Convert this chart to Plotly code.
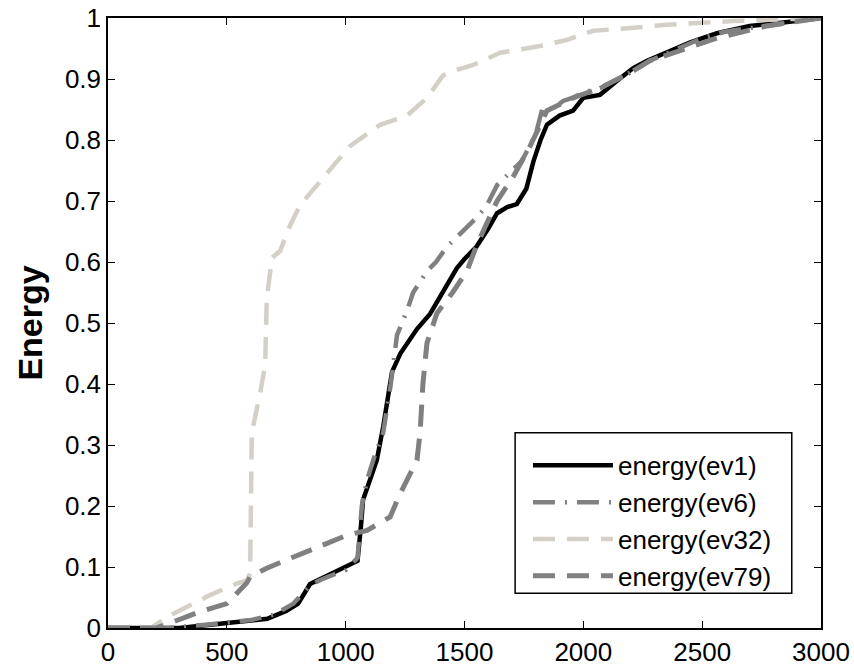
import plotly.graph_objects as go

ev1_x = [0, 300, 400, 500, 600, 670, 750, 800, 850, 900, 950, 1000, 1050, 1065, 1073, 1100, 1131, 1158, 1195, 1230, 1258, 1300, 1355, 1400, 1468, 1500, 1550, 1600, 1637, 1680, 1720, 1760, 1790, 1820, 1847, 1900, 1957, 2000, 2070, 2142, 2210, 2268, 2352, 2450, 2562, 2700, 2850, 3000]
ev1_y = [0, 0, 0.004, 0.008, 0.011, 0.015, 0.028, 0.04, 0.072, 0.082, 0.092, 0.1, 0.11, 0.17, 0.21, 0.24, 0.275, 0.33, 0.42, 0.45, 0.467, 0.49, 0.515, 0.545, 0.59, 0.605, 0.625, 0.655, 0.68, 0.69, 0.695, 0.72, 0.765, 0.8, 0.825, 0.84, 0.848, 0.869, 0.874, 0.897, 0.918, 0.93, 0.943, 0.96, 0.975, 0.987, 0.993, 1.0]

ev6_x = [0, 250, 400, 500, 600, 700, 780, 850, 900, 1000, 1050, 1068, 1090, 1120, 1158, 1190, 1216, 1258, 1284, 1342, 1380, 1426, 1480, 1536, 1590, 1637, 1700, 1742, 1800, 1830, 1870, 1915, 1960, 2000, 2070, 2150, 2210, 2280, 2400, 2500, 2600, 2773, 3000]
ev6_y = [0, 0, 0.005, 0.009, 0.013, 0.022, 0.04, 0.07, 0.08, 0.095, 0.115, 0.2, 0.243, 0.28, 0.32, 0.4, 0.48, 0.52, 0.55, 0.585, 0.6, 0.625, 0.645, 0.667, 0.69, 0.726, 0.75, 0.766, 0.81, 0.855, 0.85, 0.864, 0.87, 0.878, 0.885, 0.9, 0.913, 0.93, 0.95, 0.967, 0.978, 0.987, 1.0]

ev32_x = [0, 180, 248, 332, 429, 543, 585, 598, 600, 605, 640, 661, 668, 690, 724, 766, 808, 879, 947, 1018, 1145, 1258, 1342, 1410, 1468, 1536, 1650, 1818, 1930, 2041, 2210, 2352, 2630, 3000]
ev32_y = [0, 0, 0.018, 0.035, 0.054, 0.073, 0.078, 0.09, 0.2, 0.32, 0.385, 0.43, 0.54, 0.607, 0.618, 0.66, 0.693, 0.726, 0.759, 0.79, 0.825, 0.84, 0.869, 0.906, 0.915, 0.923, 0.943, 0.954, 0.964, 0.979, 0.984, 0.989, 0.995, 1.0]

ev79_x = [0, 200, 261, 374, 500, 584, 598, 668, 778, 892, 1005, 1090, 1187, 1229, 1280, 1300, 1313, 1325, 1342, 1384, 1450, 1510, 1552, 1637, 1705, 1776, 1847, 1957, 2070, 2210, 2280, 2400, 2562, 2773, 3000]
ev79_y = [0, 0, 0.008, 0.025, 0.04, 0.074, 0.084, 0.098, 0.116, 0.133, 0.152, 0.16, 0.182, 0.22, 0.26, 0.275, 0.32, 0.4, 0.467, 0.516, 0.55, 0.585, 0.628, 0.7, 0.74, 0.79, 0.848, 0.869, 0.885, 0.913, 0.93, 0.945, 0.967, 0.987, 1.0]

x_ticks = [0, 500, 1000, 1500, 2000, 2500, 3000]
y_ticks = [0, 0.1, 0.2, 0.3, 0.4, 0.5, 0.6, 0.7, 0.8, 0.9, 1]
y_tick_text = ["0", "0.1", "0.2", "0.3", "0.4", "0.5", "0.6", "0.7", "0.8", "0.9", "1"]

FONT = "Liberation Sans, Arial, Helvetica, sans-serif"

fig = go.Figure()
fig.add_trace(go.Scatter(x=ev1_x, y=ev1_y, mode="lines", name="energy(ev1)",
                         line=dict(color="#000000", width=4.5)))
fig.add_trace(go.Scatter(x=ev6_x, y=ev6_y, mode="lines", name="energy(ev6)",
                         line=dict(color="#808080", width=4.5, dash="22px,10px,2px,10px")))
fig.add_trace(go.Scatter(x=ev32_x, y=ev32_y, mode="lines", name="energy(ev32)",
                         line=dict(color="#d4d0c8", width=4.5, dash="22px,12px")))
fig.add_trace(go.Scatter(x=ev79_x, y=ev79_y, mode="lines", name="energy(ev79)",
                         line=dict(color="#808080", width=5, dash="22px,12px")))

axis_common = dict(showline=True, linecolor="black", linewidth=1.5, mirror="ticks",
                   ticks="inside", ticklen=7, tickwidth=1, tickcolor="black",
                   showgrid=False, zeroline=False, automargin=False,
                   tickfont=dict(family=FONT, size=26, color="black"))

# legend frame (white box with black border)
fig.add_shape(type="rect", xref="paper", yref="paper",
              x0=0.571, x1=0.959, y0=0.057, y1=0.320,
              line=dict(color="black", width=1.5), fillcolor="white", layer="above")

fig.update_layout(
    width=854, height=671,
    margin=dict(l=108, r=33, t=18, b=43),
    paper_bgcolor="white", plot_bgcolor="white",
    xaxis=dict(range=[0, 3000], tickvals=x_ticks, ticktext=[str(v) for v in x_ticks], **axis_common),
    yaxis=dict(range=[0, 1], tickvals=y_ticks, ticktext=y_tick_text,
               title=dict(text="<b>Energy</b>", standoff=12,
                          font=dict(family=FONT, size=34, color="black")),
               **axis_common),
    legend=dict(x=0.589, y=0.046, xanchor="left", yanchor="bottom",
                bgcolor="rgba(0,0,0,0)", borderwidth=0,
                font=dict(family=FONT, size=26, color="black"),
                itemwidth=80),
    showlegend=True,
)

fig.write_html("out.html")
